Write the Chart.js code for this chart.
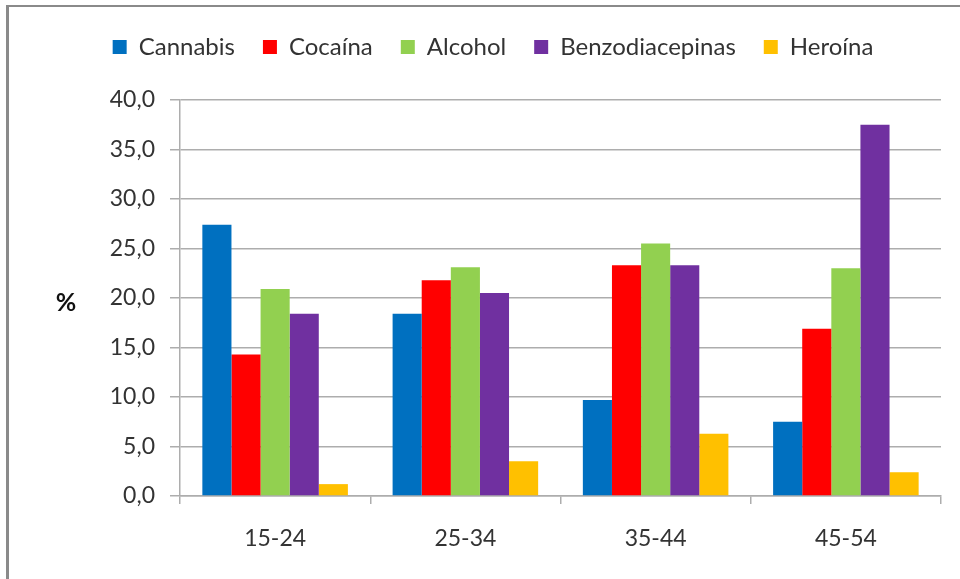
<!DOCTYPE html>
<html>
<head>
<meta charset="utf-8">
<script src="https://cdn.jsdelivr.net/npm/chart.js@4/dist/chart.umd.min.js"></script>
<style>
    html, body { margin: 0; padding: 0; background: #ffffff; }
    #wrap { position: relative; width: 960px; height: 579px; overflow: hidden; }
    #frame {
        position: absolute; left: 6px; top: 5px; width: 980px; height: 600px;
        border-left: 3px solid #8a8a8a; border-top: 2px solid #8a8a8a;
        box-sizing: border-box;
    }
    canvas { position: absolute; left: 0; top: 0; }
</style>
</head>
<body>
<div id="wrap">
    <div id="frame"></div>
    <canvas id="drugChart" width="960" height="579"></canvas>
</div>
<script>
// Age groups and share (%) per substance
const ageGroups = ['15-24', '25-34', '35-44', '45-54'];
const cannabis = [27.4, 18.4, 9.7, 7.5];
const cocaina = [14.3, 21.8, 23.3, 16.9];
const alcohol = [20.9, 23.1, 25.5, 23.0];
const benzodiacepinas = [18.4, 20.5, 23.3, 37.5];
const heroina = [1.2, 3.5, 6.3, 2.4];
const yTicks = [0, 5, 10, 15, 20, 25, 30, 35, 40];

const FONT = 'Lato, "DejaVu Sans", sans-serif';
const TEXT = '#333333';
const GRID = '#adadad';

// push the plot area down below the legend
const legendGap = {
    id: 'legendGap',
    beforeInit(chart) {
        const fit = chart.legend.fit;
        chart.legend.fit = function() {
            fit.bind(chart.legend)();
            this.height += 31;
        };
    }
};

// unrotated "%" beside the value axis
const unitLabel = {
    id: 'unitLabel',
    afterDraw(chart) {
        const ctx = chart.ctx;
        const area = chart.chartArea;
        ctx.save();
        ctx.font = 'bold 25px ' + FONT;
        ctx.fillStyle = '#111111';
        ctx.textAlign = 'center';
        ctx.textBaseline = 'middle';
        ctx.fillText('%', 66, (area.top + area.bottom) / 2 + 5);
        ctx.restore();
    }
};

function dataset(label, data, color) {
    return {
        label: label,
        data: data,
        backgroundColor: color,
        borderWidth: 0,
        categoryPercentage: 0.765,
        barPercentage: 1.0
    };
}

new Chart(document.getElementById('drugChart').getContext('2d'), {
    type: 'bar',
    data: {
        labels: ageGroups,
        datasets: [
            dataset('Cannabis', cannabis, '#0070C0'),
            dataset('Cocaína', cocaina, '#FF0000'),
            dataset('Alcohol', alcohol, '#92D050'),
            dataset('Benzodiacepinas', benzodiacepinas, '#7030A0'),
            dataset('Heroína', heroina, '#FFC000')
        ]
    },
    options: {
        responsive: false,
        animation: false,
        layout: {
            padding: { left: 45, right: 19, top: 7, bottom: 0 }
        },
        plugins: {
            legend: {
                position: 'top',
                labels: {
                    boxWidth: 14,
                    boxHeight: 14,
                    padding: 28,
                    color: TEXT,
                    font: { family: FONT, size: 24 }
                }
            },
            tooltip: { enabled: false }
        },
        scales: {
            x: {
                grid: {
                    offset: true,
                    drawOnChartArea: false,
                    drawTicks: true,
                    tickLength: 8,
                    color: GRID,
                    lineWidth: 1.5
                },
                border: { color: GRID, width: 1.5 },
                ticks: {
                    color: TEXT,
                    padding: 21,
                    font: { family: FONT, size: 23 }
                },
                afterFit: function(scale) {
                    scale.height = 83;
                }
            },
            y: {
                min: 0,
                max: 40,
                afterBuildTicks: function(scale) {
                    scale.ticks = yTicks.map(v => ({ value: v }));
                },
                grid: {
                    color: GRID,
                    lineWidth: 1.5,
                    tickLength: 10
                },
                border: { color: GRID, width: 1.5 },
                ticks: {
                    color: TEXT,
                    padding: 15,
                    font: { family: FONT, size: 23 },
                    callback: function(value) {
                        return value.toFixed(1).replace('.', ',');
                    }
                },
                afterFit: function(scale) {
                    scale.width = 135;
                }
            }
        }
    },
    plugins: [legendGap, unitLabel]
});
</script>
</body>
</html>
